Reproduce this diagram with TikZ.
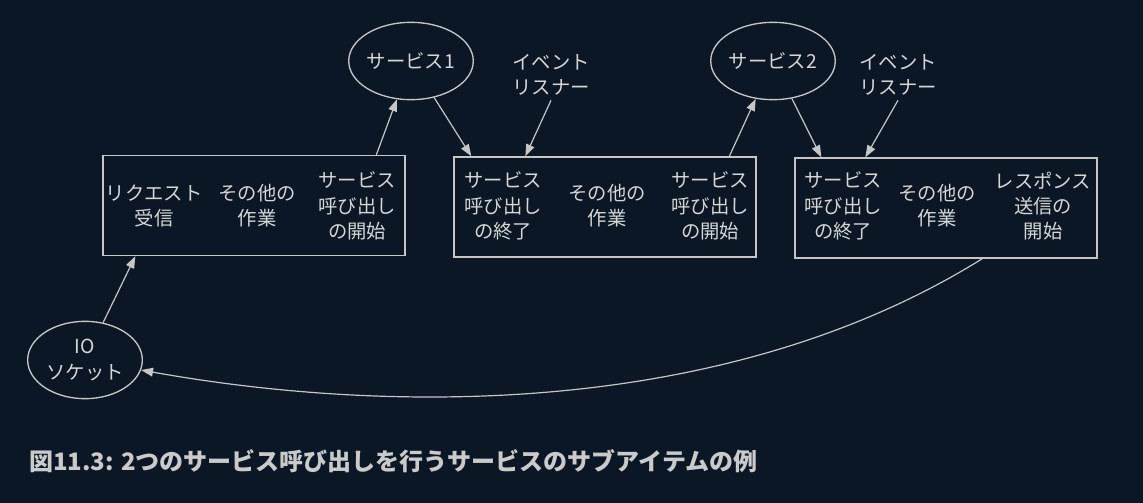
\documentclass[tikz,border=0pt]{standalone}
\usepackage{fontspec}
\newfontfamily\jpfont{Noto Sans CJK JP}
\usetikzlibrary{shapes.geometric,arrows.meta,calc}
\definecolor{bgnavy}{HTML}{0B1724}
\definecolor{linegray}{HTML}{C4C6C8}
\definecolor{textgray}{HTML}{D4D6D8}
\definecolor{capgray}{HTML}{C8CACC}

\begin{document}
\begin{tikzpicture}[x=0.75pt,y=-0.75pt,
    every node/.style={font=\jpfont\fontsize{14.5}{19}\selectfont, text=textgray, align=center},
    stage/.style={rectangle, draw=linegray, line width=1pt, minimum width=226.5pt, minimum height=75pt},
    service/.style={ellipse, draw=linegray, line width=1pt, minimum width=86pt, minimum height=58pt, inner sep=0pt},
    flow/.style={-{Triangle[length=9pt,width=6.5pt]}, color=linegray, line width=0.9pt}]
   \fill[bgnavy] (0,0) rectangle (1143,503);

   \node[stage] (B1) at (254,205.5) {};
   \node[stage] (B2) at (605,207) {};
   \node[stage] (B3) at (946,208) {};

   \node (B1a) at (154,206) {リクエスト\\受信};
   \node (B1b) at (257,206) {その他の\\作業};
   \node (B1c) at (357,206) {サービス\\呼び出し\\の開始};
   \node (B2a) at (503,206) {サービス\\呼び出し\\の終了};
   \node (B2b) at (607,206) {その他の\\作業};
   \node (B2c) at (710,206) {サービス\\呼び出し\\の開始};
   \node (B3a) at (843,206) {サービス\\呼び出し\\の終了};
   \node (B3b) at (937,206) {その他の\\作業};
   \node (B3c) at (1043,206) {レスポンス\\送信の\\開始};

   \node[service] (S1) at (411,61) {サービス1};
   \node[service] (S2) at (773,61) {サービス2};
   \node[service] (IO) at (85,360) {IO\\ソケット};

   \node (L1) at (551,75) {イベント\\リスナー};
   \node (L2) at (898,75) {イベント\\リスナー};

   \node[anchor=west, inner sep=0pt, text=capgray,
         font=\jpfont\bfseries\fontsize{18}{21}\selectfont] (cap) at (29,461)
         {図11.3: 2つのサービス呼び出しを行うサービスのサブアイテムの例};

   \draw[flow] (IO) to ($(B1.south west)+(33,0)$);
   \draw[flow] ($(B1.north west)+(274,0)$) to (S1);
   \draw[flow] (S1) to ($(B2.north west)+(18,0)$);
   \draw[flow] (L1.south) to ($(B2.north west)+(72,0)$);
   \draw[flow] ($(B2.north west)+(276,0)$) to (S2);
   \draw[flow] (S2) to ($(B3.north west)+(27,0)$);
   \draw[flow] (L2.south) to ($(B3.north west)+(71,0)$);
   \draw[flow] ($(B3.south west)+(188,0)$) .. controls (728,417) and (392,415) .. (IO);
\end{tikzpicture}
\end{document}
